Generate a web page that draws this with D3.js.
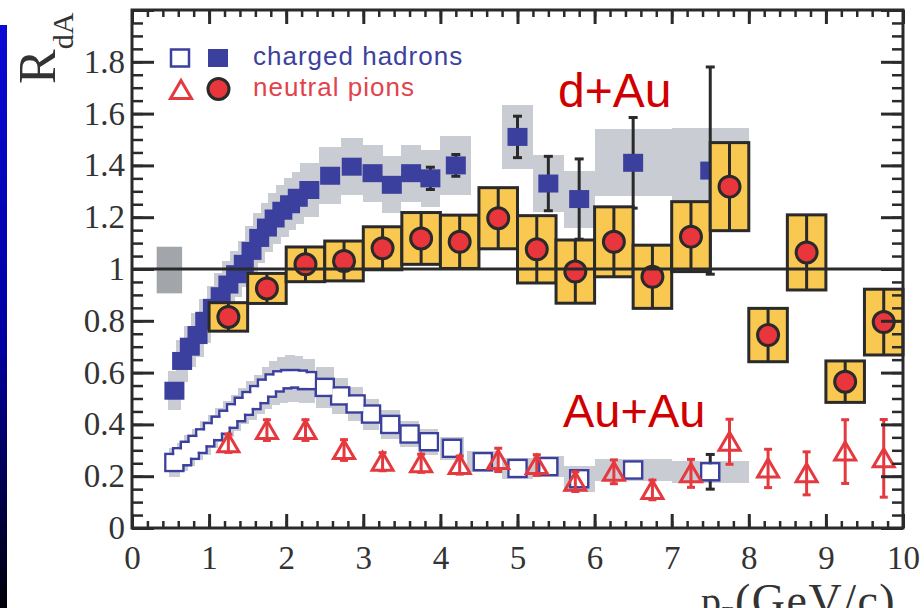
<!DOCTYPE html>
<html>
<head>
<meta charset="utf-8">
<script src="https://cdn.jsdelivr.net/npm/d3@7"></script>
<style>
  body { margin: 0; background: #fff; }
  svg { display: block; }
</style>
</head>
<body>
<div id="vis"></div>
<script>

// ---- data ----

// d+Au charged hadrons (filled squares)
const hDAuPt   = [0.55,0.65,0.75,0.85,0.95,1.05,1.15,1.25,1.35,1.45,1.55,1.65,1.75,1.85,1.95,2.05,2.15,2.3,2.57,2.85,3.12,3.37,3.62,3.87,4.2,5.0,5.4,5.8,6.5,7.5];
const hDAuR    = [0.53,0.645,0.70,0.745,0.80,0.85,0.895,0.94,0.98,1.02,1.07,1.12,1.16,1.195,1.225,1.25,1.275,1.305,1.36,1.395,1.37,1.325,1.37,1.35,1.40,1.51,1.33,1.27,1.41,1.38];
const hDAuStat = [0,0,0,0,0,0,0,0,0,0,0,0,0,0,0,0,0,0,0,0,0,0,0,0.043,0.042,0.08,0.105,0.155,0.175,0.40];
const hDAuSys  = [0.075,0.08,0.08,0.085,0.085,0.085,0.09,0.09,0.09,0.09,0.095,0.095,0.095,0.1,0.1,0.1,0.1,0.105,0.11,0.11,0.11,0.11,0.11,0.11,0.115,0.125,0.11,0.11,0.13,0.165];
const hDAuBinHalf = [0.08,0.08,0.08,0.08,0.08,0.08,0.08,0.08,0.08,0.08,0.08,0.08,0.08,0.08,0.08,0.08,0.08,0.12,0.14,0.14,0.13,0.125,0.125,0.125,0.2,0.2,0.2,0.2,0.5,0.5];

// Au+Au charged hadrons (open squares)
const hAuAuPt   = [0.55,0.65,0.75,0.85,0.95,1.05,1.15,1.25,1.35,1.45,1.55,1.65,1.75,1.85,1.95,2.05,2.15,2.27,2.5,2.7,2.9,3.1,3.35,3.6,3.85,4.15,4.55,5.0,5.4,5.8,6.5,7.5];
const hAuAuR    = [0.253,0.275,0.30,0.323,0.348,0.372,0.397,0.42,0.445,0.47,0.492,0.515,0.54,0.56,0.572,0.577,0.575,0.569,0.543,0.51,0.479,0.44,0.40,0.363,0.333,0.308,0.256,0.23,0.237,0.19,0.224,0.217];
const hAuAuStat = [0,0,0,0,0,0,0,0,0,0,0,0,0,0,0,0,0,0,0,0,0,0,0,0,0,0,0,0,0,0,0,0.067];
const hAuAuSys  = [0.055,0.055,0.06,0.06,0.065,0.065,0.065,0.07,0.07,0.07,0.075,0.075,0.08,0.085,0.09,0.09,0.09,0.085,0.08,0.07,0.065,0.06,0.055,0.05,0.05,0.045,0.04,0.04,0.04,0.05,0.042,0.042];
const hAuAuBinHalf = [0.07,0.07,0.07,0.07,0.07,0.07,0.07,0.07,0.07,0.07,0.07,0.07,0.07,0.07,0.07,0.07,0.07,0.11,0.115,0.1,0.1,0.11,0.125,0.125,0.125,0.15,0.2,0.2,0.2,0.2,0.5,0.5];

// neutral pions, 0.5 GeV/c bins
const piPt       = [1.25,1.75,2.25,2.75,3.25,3.75,4.25,4.75,5.25,5.75,6.25,6.75,7.25,7.75,8.25,8.75,9.25,9.75];
const piDAu      = [0.815,0.925,1.018,1.031,1.08,1.118,1.105,1.196,1.076,0.99,1.105,0.97,1.125,1.318,0.745,1.064,0.565,0.795];
const piDAuErr   = [0.055,0.058,0.067,0.077,0.083,0.10,0.103,0.118,0.13,0.122,0.135,0.122,0.135,0.17,0.103,0.145,0.08,0.127];
const piAuAu     = [0.327,0.378,0.378,0.301,0.256,0.25,0.243,0.263,0.243,0.179,0.217,0.147,0.211,0.333,0.23,0.211,0.295,0.269];
const piAuAuErr  = [0.035,0.04,0.04,0.04,0.035,0.035,0.035,0.045,0.04,0.038,0.046,0.038,0.054,0.087,0.074,0.083,0.123,0.15];
const PI_BIN_HALF = 0.25;

// overall normalisation uncertainty box
const normPt = [0.32, 0.65];
const normR  = [0.906, 1.086];

// axes
const xMajor = d3.range(0, 11);
const xTickLabels = ['0','1','2','3','4','5','6','7','8','9','10'];
const xMinor = d3.range(0, 10.01, 0.2);
const yMajor = [0,0.2,0.4,0.6,0.8,1,1.2,1.4,1.6,1.8,2];
const yTickLabels = ['0','0.2','0.4','0.6','0.8','1','1.2','1.4','1.6','1.8',''];
const yMinor = d3.range(0, 2.001, 0.05);

const legendItems = ['charged hadrons', 'neutral pions'];

// ---- layout ----
const FRAME_WIDTH = 924;
const FRAME_HEIGHT = 608;
const PLOT = {left: 132, right: 903, top: 10, bottom: 528};

const BLUE = '#3b3f9d';
const BAND = '#caccd3';
const INK = '#2a2a2a';
const YELLOW = '#f9c851';
const RED = '#e8363c';
const SERIF = '"Liberation Serif", "DejaVu Serif", serif';
const SANS = '"Liberation Sans", Arial, sans-serif';

const X = d3.scaleLinear().domain([0, 10]).range([PLOT.left, PLOT.right]);
const Y = d3.scaleLinear().domain([0, 2]).range([PLOT.bottom, PLOT.top]);

const FRAME = d3.select('#vis').append('svg')
  .attr('width', FRAME_WIDTH)
  .attr('height', FRAME_HEIGHT);

// blue slide strip on the left
const grad = FRAME.append('defs').append('linearGradient')
  .attr('id', 'strip').attr('x1', 0).attr('y1', 0).attr('x2', 0).attr('y2', 1);
grad.append('stop').attr('offset', '0%').attr('stop-color', '#0a0ad6');
grad.append('stop').attr('offset', '55%').attr('stop-color', '#0000a0');
grad.append('stop').attr('offset', '100%').attr('stop-color', '#000008');
FRAME.append('rect').attr('x', 0).attr('y', 25).attr('width', 7).attr('height', FRAME_HEIGHT - 25)
  .attr('fill', 'url(#strip)');

const hDAu = hDAuPt.map((pt, i) => ({pt, r: hDAuR[i], stat: hDAuStat[i], sys: hDAuSys[i], half: hDAuBinHalf[i]}));
const hAuAu = hAuAuPt.map((pt, i) => ({pt, r: hAuAuR[i], stat: hAuAuStat[i], sys: hAuAuSys[i], half: hAuAuBinHalf[i]}));
const piA = piPt.map((pt, i) => ({pt, r: piDAu[i], err: piDAuErr[i]}));
const piB = piPt.map((pt, i) => ({pt, r: piAuAu[i], err: piAuAuErr[i]}));

// normalisation box
FRAME.append('rect')
  .attr('x', X(normPt[0])).attr('width', X(normPt[1]) - X(normPt[0]))
  .attr('y', Y(normR[1])).attr('height', Y(normR[0]) - Y(normR[1]))
  .attr('fill', '#a2a6ab');

// systematic bands of the charged hadrons
FRAME.append('g').attr('shape-rendering', 'crispEdges')
  .selectAll('rect')
  .data(hDAu.concat(hAuAu))
  .join('rect')
    .attr('x', d => X(d.pt - d.half))
    .attr('width', d => X(d.pt + d.half) - X(d.pt - d.half))
    .attr('y', d => Y(d.r + d.sys))
    .attr('height', d => Y(d.r - d.sys) - Y(d.r + d.sys))
    .attr('fill', BAND);

function errorBars(data, color, cap) {
  const g = FRAME.append('g').attr('stroke', color).attr('stroke-width', 3);
  const withErr = data.filter(d => d.e > 0);
  g.selectAll('line.v').data(withErr).join('line').attr('class', 'v')
    .attr('x1', d => X(d.pt)).attr('x2', d => X(d.pt))
    .attr('y1', d => Y(d.r - d.e)).attr('y2', d => Y(d.r + d.e));
  if (cap > 0) {
    ['lo', 'hi'].forEach(side => {
      g.selectAll('line.' + side).data(withErr).join('line').attr('class', side)
        .attr('x1', d => X(d.pt) - cap / 2).attr('x2', d => X(d.pt) + cap / 2)
        .attr('y1', d => Y(side === 'lo' ? d.r - d.e : d.r + d.e))
        .attr('y2', d => Y(side === 'lo' ? d.r - d.e : d.r + d.e));
    });
  }
}

// d+Au charged hadrons
errorBars(hDAu.map(d => ({pt: d.pt, r: d.r, e: d.stat})), INK, 9);
const SQ_W = 20, SQ_H = 18;
FRAME.append('g').selectAll('rect')
  .data(hDAu)
  .join('rect')
    .attr('x', d => X(d.pt) - SQ_W / 2).attr('y', d => Y(d.r) - SQ_H / 2)
    .attr('width', SQ_W).attr('height', SQ_H)
    .attr('fill', BLUE);

// Au+Au charged hadrons: outlines first, then white insides -> outline of the union
errorBars(hAuAu.map(d => ({pt: d.pt, r: d.r, e: d.stat})), INK, 9);
const OSQ_W = 18, OSQ_H = 17;
const OSW = 2.5;
FRAME.append('g').selectAll('rect')
  .data(hAuAu)
  .join('rect')
    .attr('x', d => X(d.pt) - OSQ_W / 2).attr('y', d => Y(d.r) - OSQ_H / 2)
    .attr('width', OSQ_W).attr('height', OSQ_H)
    .attr('fill', 'none').attr('stroke', BLUE).attr('stroke-width', OSW);
FRAME.append('g').selectAll('rect')
  .data(hAuAu)
  .join('rect')
    .attr('x', d => X(d.pt) - OSQ_W / 2 + OSW / 2).attr('y', d => Y(d.r) - OSQ_H / 2 + OSW / 2)
    .attr('width', OSQ_W - OSW).attr('height', OSQ_H - OSW)
    .attr('fill', '#fff');

// d+Au neutral pions: systematic boxes, error bars, circles
FRAME.append('g').selectAll('rect')
  .data(piA)
  .join('rect')
    .attr('x', d => X(d.pt - PI_BIN_HALF))
    .attr('width', d => X(d.pt + PI_BIN_HALF) - X(d.pt - PI_BIN_HALF))
    .attr('y', d => Y(d.r + d.err))
    .attr('height', d => Y(d.r - d.err) - Y(d.r + d.err))
    .attr('fill', YELLOW).attr('stroke', INK).attr('stroke-width', 3);
errorBars(piA.map(d => ({pt: d.pt, r: d.r, e: d.err})), INK, 0);
FRAME.append('g').selectAll('circle')
  .data(piA)
  .join('circle')
    .attr('cx', d => X(d.pt)).attr('cy', d => Y(d.r)).attr('r', 10.5)
    .attr('fill', RED).attr('stroke', INK).attr('stroke-width', 3);

// Au+Au neutral pions: open triangles
const TRI_RED = '#e4393f';
const triPath = 'M0,-9.5L10.5,8.5L-10.5,8.5Z';
errorBars(piB.map(d => ({pt: d.pt, r: d.r, e: d.err})), TRI_RED, 8);
FRAME.append('g').selectAll('path')
  .data(piB)
  .join('path')
    .attr('transform', d => `translate(${X(d.pt)},${Y(d.r)})`)
    .attr('d', triPath)
    .attr('fill', 'none').attr('stroke', TRI_RED).attr('stroke-width', 3);

// R = 1 reference line
FRAME.append('line')
  .attr('x1', X(0)).attr('x2', X(10)).attr('y1', Y(1)).attr('y2', Y(1))
  .attr('stroke', INK).attr('stroke-width', 3);

// ---- axes (ticks point inwards on all four sides) ----
function styleAxis(g, width) {
  g.select('.domain').remove();
  g.selectAll('line').attr('stroke', INK).attr('stroke-width', width);
  g.selectAll('text').attr('font-family', SERIF).attr('font-size', 33).attr('fill', '#333');
}

FRAME.append('g').attr('transform', `translate(0,${PLOT.bottom})`)
  .call(d3.axisBottom(X).tickValues(xMinor).tickSize(-7).tickFormat(''))
  .call(g => styleAxis(g, 2.5));
FRAME.append('g').attr('transform', `translate(0,${PLOT.bottom})`)
  .call(d3.axisBottom(X).tickValues(xMajor).tickSize(-14).tickPadding(18).tickFormat((d, i) => xTickLabels[i]))
  .call(g => styleAxis(g, 3));
FRAME.append('g').attr('transform', `translate(0,${PLOT.top})`)
  .call(d3.axisTop(X).tickValues(xMinor).tickSize(-7).tickFormat(''))
  .call(g => styleAxis(g, 2.5));
FRAME.append('g').attr('transform', `translate(0,${PLOT.top})`)
  .call(d3.axisTop(X).tickValues(xMajor).tickSize(-14).tickFormat(''))
  .call(g => styleAxis(g, 3));

FRAME.append('g').attr('transform', `translate(${PLOT.left},0)`)
  .call(d3.axisLeft(Y).tickValues(yMinor).tickSize(-11).tickFormat(''))
  .call(g => styleAxis(g, 2.5));
FRAME.append('g').attr('transform', `translate(${PLOT.left},0)`)
  .call(d3.axisLeft(Y).tickValues(yMajor).tickSize(-22).tickPadding(7).tickFormat((d, i) => yTickLabels[i]))
  .call(g => styleAxis(g, 3));
FRAME.append('g').attr('transform', `translate(${PLOT.right},0)`)
  .call(d3.axisRight(Y).tickValues(yMinor).tickSize(-11).tickFormat(''))
  .call(g => styleAxis(g, 2.5));
FRAME.append('g').attr('transform', `translate(${PLOT.right},0)`)
  .call(d3.axisRight(Y).tickValues(yMajor).tickSize(-22).tickFormat(''))
  .call(g => styleAxis(g, 3));

FRAME.append('rect')
  .attr('x', PLOT.left).attr('y', PLOT.top)
  .attr('width', PLOT.right - PLOT.left).attr('height', PLOT.bottom - PLOT.top)
  .attr('fill', 'none').attr('stroke', INK).attr('stroke-width', 3);

// axis titles
const yTitle = FRAME.append('text')
  .attr('transform', 'translate(55,84) rotate(-90)')
  .attr('font-family', SERIF).attr('fill', '#333');
yTitle.append('tspan').attr('font-size', 52).text('R');
yTitle.append('tspan').attr('font-size', 30).attr('dy', 18).text('dA');

// x title: only its upper part is inside the picture, as in the original
FRAME.append('text').attr('x', 701).attr('y', 615)
  .attr('font-family', SERIF).attr('font-size', 40).attr('fill', '#333')
  .text('p');
FRAME.append('text').attr('x', 722).attr('y', 620)
  .attr('font-family', SERIF).attr('font-size', 18).attr('fill', '#333')
  .text('T');
FRAME.append('text').attr('x', 735).attr('y', 616)
  .attr('font-family', SERIF).attr('font-size', 46).attr('letter-spacing', 1.5).attr('fill', '#333')
  .text('(GeV/c)');

// ---- legend ----
FRAME.append('rect').attr('x', 180 - OSQ_W / 2).attr('y', 58 - OSQ_H / 2).attr('width', OSQ_W).attr('height', OSQ_H)
  .attr('fill', '#fff').attr('stroke', BLUE).attr('stroke-width', OSW);
FRAME.append('rect').attr('x', 218 - SQ_W / 2).attr('y', 58 - SQ_H / 2).attr('width', SQ_W).attr('height', SQ_H)
  .attr('fill', BLUE);
FRAME.append('path').attr('transform', 'translate(181,90)').attr('d', triPath)
  .attr('fill', 'none').attr('stroke', TRI_RED).attr('stroke-width', 3);
FRAME.append('circle').attr('cx', 218.5).attr('cy', 89).attr('r', 10.5)
  .attr('fill', RED).attr('stroke', INK).attr('stroke-width', 3);

FRAME.selectAll('text.legend')
  .data(legendItems)
  .join('text').attr('class', 'legend')
    .attr('x', 253).attr('y', (d, i) => 65 + i * 31)
    .attr('font-family', SANS).attr('font-size', 26).attr('letter-spacing', 1)
    .attr('fill', (d, i) => i === 0 ? '#3d419e' : '#e2434b')
    .text(d => d);

// collision system labels
FRAME.append('text').attr('x', 558).attr('y', 107)
  .attr('font-family', SANS).attr('font-size', 48).attr('fill', '#d10000')
  .text('d+Au');
FRAME.append('text').attr('x', 563).attr('y', 427)
  .attr('font-family', SANS).attr('font-size', 47).attr('fill', '#d10000')
  .text('Au+Au');

</script>
</body>
</html>
